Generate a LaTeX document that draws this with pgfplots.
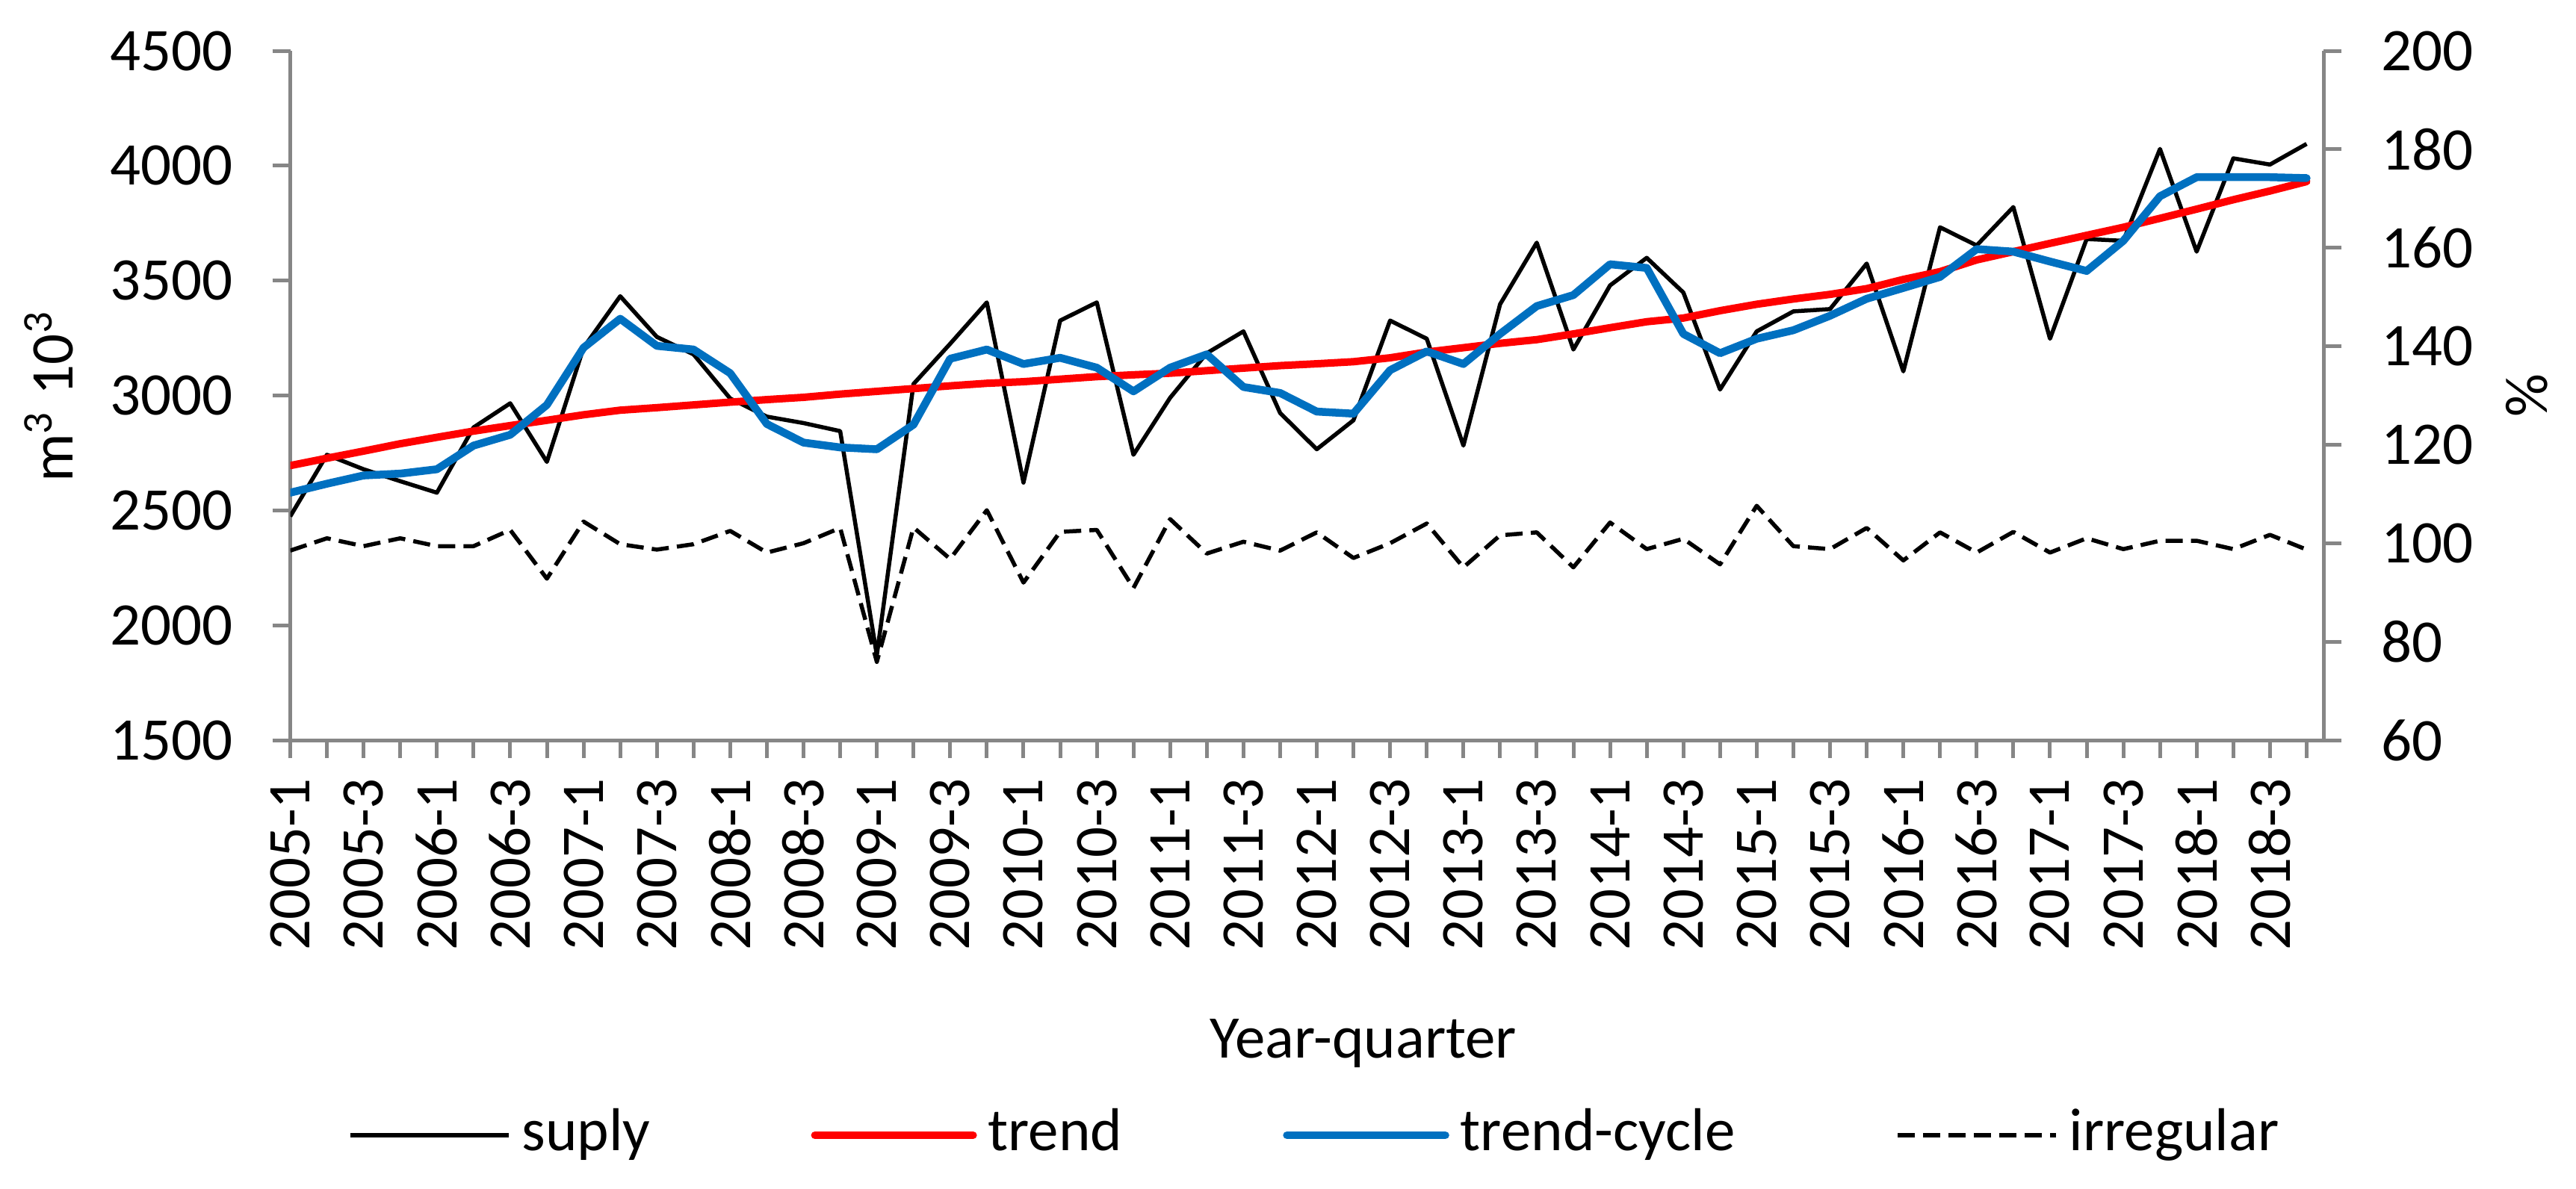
\documentclass[border=0pt]{standalone}
\usepackage{fontspec}
\setmainfont{Carlito}
\usepackage{pgfplots}
\pgfplotsset{compat=1.18}
\definecolor{axisgray}{HTML}{868686}
\definecolor{xlred}{HTML}{FF0000}
\definecolor{xlblue}{HTML}{0070C0}
\newcommand\fsz{\fontsize{8.1pt}{9.7pt}\selectfont}

\pgfplotsset{
  base/.style={
    scale only axis, width=272.15pt, height=92.3pt,
    at={(38.85pt,60pt)}, anchor=south west,
    xmin=0, xmax=55.46,
    axis line style={draw=axisgray, line width=0.5pt},
    every tick/.style={draw=axisgray, line width=0.5pt},
    major tick length=2.4pt, minor tick length=2.4pt,
    tick label style={font=\fsz, text=black},
    label style={font=\fsz},
    /pgf/number format/1000 sep={},
    /pgf/number format/assume math mode=true,
  },
}

\begin{document}
\begin{tikzpicture}
\path[use as bounding box] (0,0) rectangle (344.8pt,159.1pt);

\begin{axis}[base,
  axis x line*=bottom, axis y line*=left,
  ymin=1500, ymax=4500, ytick={1500,2000,...,4500},
  xtick={0,2,...,54}, minor xtick={1,3,...,55},
  xticklabels={2005-1,2005-3,2006-1,2006-3,2007-1,2007-3,2008-1,2008-3,2009-1,2009-3,2010-1,2010-3,2011-1,2011-3,2012-1,2012-3,2013-1,2013-3,2014-1,2014-3,2015-1,2015-3,2016-1,2016-3,2017-1,2017-3,2018-1,2018-3},
  xticklabel style={rotate=90, anchor=east, inner sep=0pt},
  yticklabel style={anchor=east, inner sep=0pt},
  xticklabel shift=2.5pt, yticklabel shift=5.1pt,
  tick align=outside,
  xlabel={Year-quarter},
  xlabel style={at={(axis description cs:0.5278,-0.4605)}, anchor=base},
  ylabel={m\textsuperscript{3} 10\textsuperscript{3}},
  ylabel style={at={(axis description cs:-0.1069,0.5)}, anchor=base, rotate=0},
  line join=round,
]
\addplot[black, line width=0.55pt] coordinates {
(0,2474) (1,2742) (2,2679) (3,2627) (4,2577) (5,2861) (6,2966) (7,2711)
(8,3208) (9,3432) (10,3255) (11,3179) (12,2987) (13,2908) (14,2880) (15,2845)
(16,1870) (17,3050) (18,3225) (19,3405) (20,2621) (21,3326) (22,3405) (23,2742)
(24,2990) (25,3184) (26,3279) (27,2924) (28,2766) (29,2892) (30,3326) (31,3247)
(32,2782) (33,3397) (34,3665) (35,3200) (36,3479) (37,3599) (38,3448) (39,3026)
(40,3279) (41,3366) (42,3376) (43,3574) (44,3105) (45,3732) (46,3653) (47,3820)
(48,3247) (49,3681) (50,3673) (51,4073) (52,3626) (53,4032) (54,4005) (55,4095)
};
\addplot[xlred, line width=1.0pt, line cap=round] coordinates {
(0,2695) (1,2727) (2,2758) (3,2790) (4,2818) (5,2845) (6,2869) (7,2892)
(8,2916) (9,2936) (10,2947) (11,2959) (12,2971) (13,2982) (14,2992) (15,3006)
(16,3018) (17,3030) (18,3042) (19,3053) (20,3060) (21,3071) (22,3082) (23,3090)
(24,3097) (25,3108) (26,3119) (27,3130) (28,3138) (29,3147) (30,3164) (31,3189)
(32,3208) (33,3227) (34,3243) (35,3268) (36,3295) (37,3321) (38,3337) (39,3369)
(40,3397) (41,3420) (42,3440) (43,3465) (44,3505) (45,3539) (46,3590) (47,3626)
(48,3662) (49,3697) (50,3732) (51,3771) (52,3811) (53,3852) (54,3890) (55,3931)
};
\addplot[xlblue, line width=1.05pt, line cap=round] coordinates {
(0,2577) (1,2616) (2,2652) (3,2660) (4,2679) (5,2782) (6,2829) (7,2959)
(8,3208) (9,3334) (10,3216) (11,3200) (12,3097) (13,2876) (14,2795) (15,2774)
(16,2766) (17,2873) (18,3160) (19,3200) (20,3137) (21,3164) (22,3121) (23,3018)
(24,3121) (25,3179) (26,3037) (27,3011) (28,2930) (29,2921) (30,3110) (31,3192)
(32,3137) (33,3268) (34,3389) (35,3437) (36,3571) (37,3555) (38,3268) (39,3184)
(40,3247) (41,3284) (42,3347) (43,3421) (44,3468) (45,3516) (46,3637) (47,3626)
(48,3583) (49,3542) (50,3673) (51,3867) (52,3950) (53,3950) (54,3950) (55,3946)
};
\end{axis}

\begin{axis}[base,
  axis x line=none, axis y line*=right,
  ymin=60, ymax=200, ytick={60,80,...,200},
  yticklabel style={anchor=west, inner sep=0pt},
  yticklabel shift=5.1pt,
  tick align=outside,
  ylabel={\%},
  ylabel style={at={(axis description cs:1.1102,0.5)}, anchor=base, rotate=0},
  line join=round,
  legend columns=4,
  legend cell align=left,
  legend image code/.code={\draw[#1] (0pt,0pt) -- (21.2pt,0pt);},
  legend style={draw=none, fill=none, inner sep=0pt, outer sep=0pt,
    at={(axis description cs:0.0285,-0.5731)}, anchor=west,
    font=\fsz, nodes={inner sep=0pt},
    /tikz/every odd column/.append style={column sep=1.5pt},
    /tikz/every even column/.append style={column sep=21.5pt}},
]
\addlegendimage{black, line width=0.55pt}
\addlegendentry{suply}
\addlegendimage{xlred, line width=1.0pt, line cap=round}
\addlegendentry{trend}
\addlegendimage{xlblue, line width=1.05pt, line cap=round}
\addlegendentry{trend-cycle}
\addplot[black, line width=0.55pt, dash pattern=on 2.3pt off 1.1pt] coordinates {
(0,98.5) (1,101.0) (2,99.4) (3,101.0) (4,99.4) (5,99.4) (6,102.7) (7,92.8)
(8,104.4) (9,99.8) (10,98.7) (11,99.8) (12,102.5) (13,98.1) (14,100.0) (15,103.1)
(16,75.9) (17,103.2) (18,96.8) (19,106.7) (20,92.0) (21,102.3) (22,102.7) (23,90.9)
(24,104.9) (25,97.9) (26,100.3) (27,98.5) (28,102.2) (29,97.0) (30,100.0) (31,104.0)
(32,95.1) (33,101.6) (34,102.2) (35,95.1) (36,104.2) (37,98.8) (38,100.9) (39,95.7)
(40,107.6) (41,99.4) (42,98.8) (43,103.1) (44,96.5) (45,102.2) (46,98.1) (47,102.3)
(48,98.1) (49,101.0) (50,98.8) (51,100.5) (52,100.5) (53,98.8) (54,101.7) (55,98.7)
};
\addlegendentry{irregular}
\end{axis}
\end{tikzpicture}
\end{document}
